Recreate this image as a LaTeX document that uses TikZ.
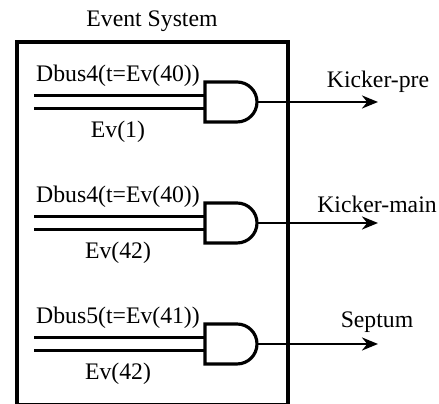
\documentclass[tikz,border=0pt]{standalone}
\usepackage{fontspec}
\setmainfont{Liberation Serif}
\usetikzlibrary{arrows.meta}
\tikzset{gate/.style={line width=1.8pt, line join=miter}}
\tikzstyle{bus} = [line width=1.8pt]
\tikzstyle{arrow} = [line width=1.5pt,-{Stealth[length=3.2mm,width=2.6mm]}]
\tikzstyle{lbl} = [inner sep=0pt, anchor=base, font=\fontsize{13.5}{16}\selectfont]

\begin{document}
\begin{tikzpicture}[x=0.02cm, y=0.02cm]
	    \useasboundingbox (0,0) rectangle (439,404);

	    \node[lbl] (title) at (152,377) {Event System};
	    \draw[line width=1.8pt] (17,362) rectangle (288,-1);

	    % Kicker-pre
	    \draw[gate] (205,322) -- (237,322) arc[start angle=90, end angle=-90, radius=0.4cm] -- (205,282) -- cycle;
	    \coordinate (g1a) at (205,308.5);
	    \coordinate (g1b) at (205,295.5);
	    \coordinate (g1out) at (257,302);
	    \coordinate (s1a) at (34,308.5);
	    \coordinate (s1b) at (34,295.5);
	    \coordinate (e1) at (378,302);
	    \draw[bus] (s1a) -- (g1a);
	    \draw[bus] (s1b) -- (g1b);
	    \draw[arrow] (g1out) -- (e1);
	    \node[lbl] (d1) at (118,322.5) {Dbus4(t=Ev(40))};
	    \node[lbl] (v1) at (118,266.5) {Ev(1)};
	    \node[lbl] (k1) at (378,316) {Kicker-pre};

	    % Kicker-main
	    \draw[gate] (205,201) -- (237,201) arc[start angle=90, end angle=-90, radius=0.4cm] -- (205,161) -- cycle;
	    \coordinate (g2a) at (205,187.5);
	    \coordinate (g2b) at (205,174.5);
	    \coordinate (g2out) at (257,181);
	    \coordinate (s2a) at (34,187.5);
	    \coordinate (s2b) at (34,174.5);
	    \coordinate (e2) at (378,181);
	    \draw[bus] (s2a) -- (g2a);
	    \draw[bus] (s2b) -- (g2b);
	    \draw[arrow] (g2out) -- (e2);
	    \node[lbl] (d2) at (118,201.5) {Dbus4(t=Ev(40))};
	    \node[lbl] (v2) at (118,145.5) {Ev(42)};
	    \node[lbl] (k2) at (377,191) {Kicker-main};

	    % Septum
	    \draw[gate] (205,80) -- (237,80) arc[start angle=90, end angle=-90, radius=0.4cm] -- (205,40) -- cycle;
	    \coordinate (g3a) at (205,66.5);
	    \coordinate (g3b) at (205,53.5);
	    \coordinate (g3out) at (257,60);
	    \coordinate (s3a) at (34,66.5);
	    \coordinate (s3b) at (34,53.5);
	    \coordinate (e3) at (378,60);
	    \draw[bus] (s3a) -- (g3a);
	    \draw[bus] (s3b) -- (g3b);
	    \draw[arrow] (g3out) -- (e3);
	    \node[lbl] (d3) at (118,80.5) {Dbus5(t=Ev(41))};
	    \node[lbl] (v3) at (118,24.5) {Ev(42)};
	    \node[lbl] (k3) at (377,76) {Septum};
	\end{tikzpicture}
\end{document}
